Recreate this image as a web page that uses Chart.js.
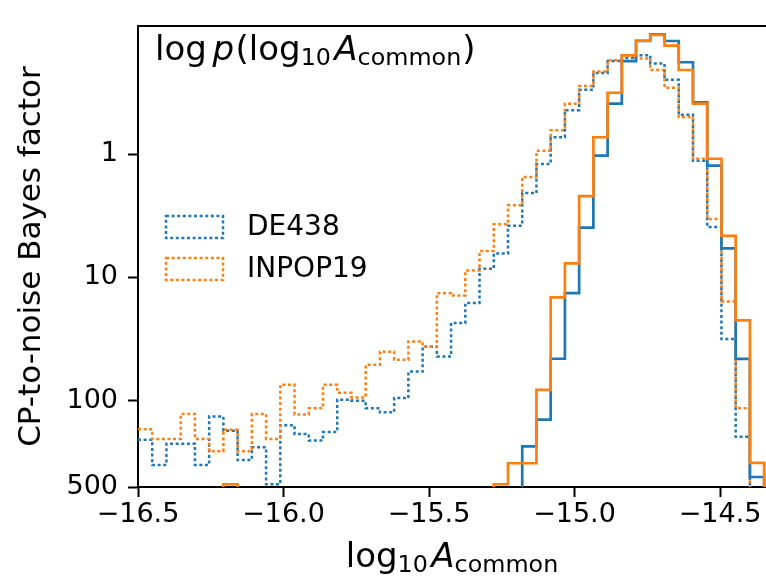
<!DOCTYPE html>
<html>
<head>
<meta charset="utf-8">
<script src="https://cdn.jsdelivr.net/npm/chart.js@4.4.1/dist/chart.umd.min.js"></script>
<style>
  html, body { margin: 0; padding: 0; background: #fff; }
  canvas { display: block; }
</style>
</head>
<body>
<canvas id="chart" width="766" height="581"></canvas>
<script>
// histogram bins along log10 A_common
const binStart = -16.5;
const binWidth = 0.0489;
const binCount = 44;

// CP-to-noise Bayes factor in each bin (null = empty bin, below the axis)
const de438Dotted = [207, 331, 223, 223, 331, 134, 175, 302, 238, 475,
    158, 186, 210, 179, 98, 100, 115, 124, 95, 58,
    36.4, 43.8, 23.4, 16.1, 8.5, 6.4, 3.8, 2.07, 1.2, 0.73,
    0.44, 0.30, 0.22, 0.176, 0.166, 0.158, 0.184, 0.25, 0.48, 1.13,
    3.9, 31.6, 196, null];
const inpop19Dotted = [170, 204, 204, 128, 204, 256, 172, 256, 128, 204,
    74, 129, 115, 74, 86, 94, 51, 40, 46.5, 33,
    36.4, 13.4, 14, 8.8, 6.1, 3.7, 2.6, 1.53, 0.94, 0.64,
    0.39, 0.28, 0.214, 0.173, 0.158, 0.168, 0.208, 0.29, 0.5, 1.09,
    3.35, 15.7, 115, null];
const de438Solid = [null, null, null, null, null, null, null, null, null, null,
    null, null, null, null, null, null, null, null, null, null,
    null, null, null, null, null, null, null, 234, 142, 45.6,
    13.4, 3.95, 1.03, 0.39, 0.176, 0.121, 0.107, 0.121, 0.18, 0.38,
    1.24, 5.8, 45.8, 415];
const inpop19Solid = [null, null, null, null, null, null, 475, null, null, null,
    null, null, null, null, null, null, null, null, null, null,
    null, null, null, null, null, 475, 321, 321, 81.5, 14.5,
    7.7, 2.19, 0.73, 0.318, 0.158, 0.12, 0.108, 0.132, 0.208, 0.39,
    1.09, 4.6, 22.3, 319];

const seriesNames = ["DE438", "INPOP19"];
const xTicks = [-16.5, -16.0, -15.5, -15.0, -14.5];
const yTicks = [1, 10, 100, 500];
const xRange = [-16.5, -14.342];
const yRange = [0.0918, 500];

const blue = "#1f77b4";
const orange = "#ff7f0e";

// math labels, drawn as runs of text
const titleRuns = [
    { text: "log", gap: 0.17 },
    { text: "p", italic: true, gap: 0.04 },
    { text: "(" },
    { text: "log" },
    { text: "10", sub: true, gap: 0.1 },
    { text: "A", italic: true },
    { text: "common", sub: true, gap: 0.03 },
    { text: ")" },
];
const xLabelRuns = [
    { text: "log" },
    { text: "10", sub: true, gap: 0.1 },
    { text: "A", italic: true },
    { text: "common", sub: true },
];

const binEdges = [];
for (let i = 0; i <= binCount; i++) binEdges.push(binStart + i * binWidth);

// turn bin heights into a step outline; empty bins drop to the axis
function stepPoints(values) {
    const floor = yRange[1];
    const pts = [];
    let prev = null;
    values.forEach((v, i) => {
        const x0 = binEdges[i];
        const x1 = binEdges[i + 1];
        if (v === null) {
            if (prev !== null) {
                pts.push({ x: x0, y: floor });
                pts.push({ x: x0, y: null });
            }
        } else {
            if (prev === null && i > 0) pts.push({ x: x0, y: floor });
            pts.push({ x: x0, y: v });
            pts.push({ x: x1, y: v });
        }
        prev = v;
    });
    if (prev !== null) pts.push({ x: binEdges[binCount], y: floor });
    return pts;
}

function mathFont(size, italic) {
    return (italic ? "italic " : "") + size + 'px "DejaVu Sans"';
}

function drawMath(ctx, runs, x, y, size, align) {
    let total = 0;
    const widths = runs.map((r) => {
        ctx.font = mathFont(r.sub ? size * 0.7 : size, r.italic);
        const w = ctx.measureText(r.text).width + (r.gap || 0) * size;
        total += w;
        return w;
    });
    let cx = align === "center" ? x - total / 2 : x;
    runs.forEach((r, i) => {
        ctx.font = mathFont(r.sub ? size * 0.7 : size, r.italic);
        ctx.fillText(r.text, cx, y + (r.sub ? size * 0.15 : 0));
        cx += widths[i];
    });
}

const labelsPlugin = {
    id: "labels",
    afterDraw(chart) {
        const ctx = chart.ctx;
        const area = chart.chartArea;
        ctx.save();
        ctx.fillStyle = "#000";
        ctx.textBaseline = "alphabetic";
        ctx.textAlign = "left";
        drawMath(ctx, titleRuns, 155, 60, 34, "left");
        drawMath(ctx, xLabelRuns, (area.left + area.right) / 2, 567, 34, "center");

        // legend for the dotted histograms, in series order
        seriesNames.forEach((name, i) => {
            const d = chart.data.datasets.find((ds) => ds.label === name);
            const top = 216 + i * 42;
            ctx.save();
            ctx.strokeStyle = d.borderColor;
            ctx.lineWidth = d.borderWidth;
            ctx.setLineDash(d.borderDash);
            ctx.strokeRect(166, top, 57, 22);
            ctx.restore();
            ctx.fillStyle = "#000";
            ctx.font = '28px "DejaVu Sans"';
            ctx.textBaseline = "middle";
            ctx.fillText(name, 247, top + 12);
        });
        ctx.restore();
    },
};

function drawChart() {
    const ctx = document.getElementById("chart").getContext("2d");
    Chart.defaults.font.family = '"DejaVu Sans", sans-serif';
    Chart.defaults.color = "#000";

    const solid = { borderWidth: 2.7, borderDash: [], pointRadius: 0, tension: 0, spanGaps: false, fill: false };
    const dotted = { borderWidth: 2.5, borderDash: [3, 2.6], pointRadius: 0, tension: 0, spanGaps: false, fill: false };

    // first dataset is drawn on top
    new Chart(ctx, {
        type: "line",
        data: {
            datasets: [
                Object.assign({ label: seriesNames[1] + " solid", data: stepPoints(inpop19Solid), borderColor: orange }, solid),
                Object.assign({ label: seriesNames[0] + " solid", data: stepPoints(de438Solid), borderColor: blue }, solid),
                Object.assign({ label: seriesNames[1], data: stepPoints(inpop19Dotted), borderColor: orange }, dotted),
                Object.assign({ label: seriesNames[0], data: stepPoints(de438Dotted), borderColor: blue }, dotted),
            ],
        },
        options: {
            responsive: false,
            animation: false,
            events: [],
            layout: { padding: { top: 13, right: 0, bottom: 0, left: 0 } },
            scales: {
                x: {
                    type: "linear",
                    position: "bottom",
                    min: xRange[0],
                    max: xRange[1],
                    afterFit: (s) => { s.height = 94; },
                    afterBuildTicks: (s) => { s.ticks = xTicks.map((v) => ({ value: v })); },
                    ticks: {
                        autoSkip: false,
                        maxRotation: 0,
                        padding: 2,
                        font: { size: 27 },
                        callback: (v) => (v < 0 ? "\u2212" : "") + Math.abs(v).toFixed(1),
                    },
                    grid: { drawOnChartArea: false, drawTicks: true, tickLength: 10, tickWidth: 2, tickColor: "#000" },
                    border: { display: true, color: "#000", width: 2 },
                },
                x2: {
                    type: "linear",
                    position: "top",
                    min: xRange[0],
                    max: xRange[1],
                    afterFit: (s) => { s.height = 0; },
                    ticks: { display: false },
                    grid: { display: false, drawTicks: false },
                    border: { display: true, color: "#000", width: 2 },
                },
                y: {
                    type: "logarithmic",
                    reverse: true,
                    min: yRange[0],
                    max: yRange[1],
                    afterFit: (s) => { s.width = 138; },
                    afterBuildTicks: (s) => { s.ticks = yTicks.map((v) => ({ value: v })); },
                    ticks: {
                        autoSkip: false,
                        padding: 10,
                        font: { size: 27 },
                        callback: (v) => String(v),
                    },
                    grid: { drawOnChartArea: false, drawTicks: true, tickLength: 10, tickWidth: 2, tickColor: "#000" },
                    border: { display: true, color: "#000", width: 2 },
                    title: {
                        display: true,
                        text: "CP-to-noise Bayes factor",
                        font: { size: 31 },
                        padding: { top: 13, bottom: 0 },
                    },
                },
            },
            plugins: {
                legend: { display: false },
                tooltip: { enabled: false },
            },
        },
        plugins: [labelsPlugin],
    });
}

drawChart();
</script>
</body>
</html>
